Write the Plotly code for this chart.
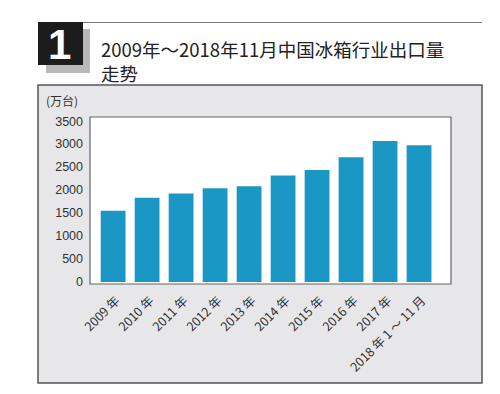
import plotly.graph_objects as go

categories = ["2009 年", "2010 年", "2011 年", "2012 年", "2013 年", "2014 年",
              "2015 年", "2016 年", "2017 年", "2018 年 1 ～ 11 月"]
values = [1550, 1830, 1925, 2040, 2085, 2315, 2435, 2715, 3070, 2975]
y_ticks = [0, 500, 1000, 1500, 2000, 2500, 3000, 3500]

OFF = 8  # page body margin
W, H = 484, 378
L, R, T, B = 90 - OFF, 451 - OFF, 117 - OFF, 284 - OFF  # plot area pixels in figure


def px(x):
    return (x - OFF - L) / (R - L)


def py(y):
    return (B - (y - OFF)) / (B - T)


fig = go.Figure()
fig.add_trace(go.Bar(
    x=list(range(len(categories))), y=values,
    marker=dict(color="#1b97c5", line=dict(width=0)),
    width=0.73,
))

shapes = [
    dict(type="line", xref="paper", yref="paper", x0=px(38), x1=px(482), y0=py(22.5), y1=py(22.5),
         line=dict(color="#7a7a7a", width=1), layer="below"),
    dict(type="rect", xref="paper", yref="paper", x0=px(46), x1=px(90), y0=py(29), y1=py(73),
         fillcolor="#b8b8b8", line=dict(width=0), layer="below"),
    dict(type="rect", xref="paper", yref="paper", x0=px(38), x1=px(83), y0=py(22), y1=py(65),
         fillcolor="#1c1c1c", line=dict(width=0), layer="below"),
    dict(type="rect", xref="paper", yref="paper", x0=px(38), x1=px(482), y0=py(85), y1=py(383),
         fillcolor="#e7e7e9", line=dict(color="#555555", width=1.5), layer="below"),
    dict(type="rect", xref="paper", yref="paper", x0=0, x1=1, y0=0, y1=1,
         fillcolor="white", line=dict(color="#666666", width=1.2), layer="below"),
]

annotations = [
    dict(text="<b>1</b>", xref="paper", yref="paper", x=px(59), y=py(44), xanchor="center", yanchor="middle",
         showarrow=False, font=dict(size=42, color="white", family="Liberation Sans")),
    dict(text="2009年～2018年11月中国冰箱行业出口量", xref="paper", yref="paper",
         x=px(99), y=py(49), xanchor="left", yanchor="middle", showarrow=False,
         font=dict(size=18.5, color="#222222", family="Noto Sans CJK SC")),
    dict(text="走势", xref="paper", yref="paper",
         x=px(99), y=py(73), xanchor="left", yanchor="middle", showarrow=False,
         font=dict(size=18.5, color="#222222", family="Noto Sans CJK SC")),
    dict(text="(万台)", xref="paper", yref="paper", x=px(44), y=py(101), xanchor="left", yanchor="middle",
         showarrow=False, font=dict(size=12, color="#333333", family="Noto Sans CJK SC")),
]

fig.update_layout(
    width=W, height=H,
    margin=dict(l=L, r=W - R, t=T, b=H - B),
    paper_bgcolor="white", plot_bgcolor="rgba(0,0,0,0)",
    showlegend=False,
    shapes=shapes, annotations=annotations,
    xaxis=dict(
        range=[-0.68, 9.94], tickmode="array", tickvals=list(range(len(categories))),
        ticktext=categories, tickangle=-45, showgrid=False, zeroline=False,
        showline=False, ticks="", ticklabelstandoff=6, ticklabelshift=3,
        tickfont=dict(size=12.5, color="#333333", family="Noto Sans CJK SC"),
    ),
    yaxis=dict(
        range=[-45, 3590], tickmode="array", tickvals=y_ticks, showgrid=False, zeroline=False,
        showline=False, ticks="", ticklabelstandoff=6,
        tickfont=dict(size=12.5, color="#333333", family="Liberation Sans"),
    ),
)

fig.write_html("out.html")
